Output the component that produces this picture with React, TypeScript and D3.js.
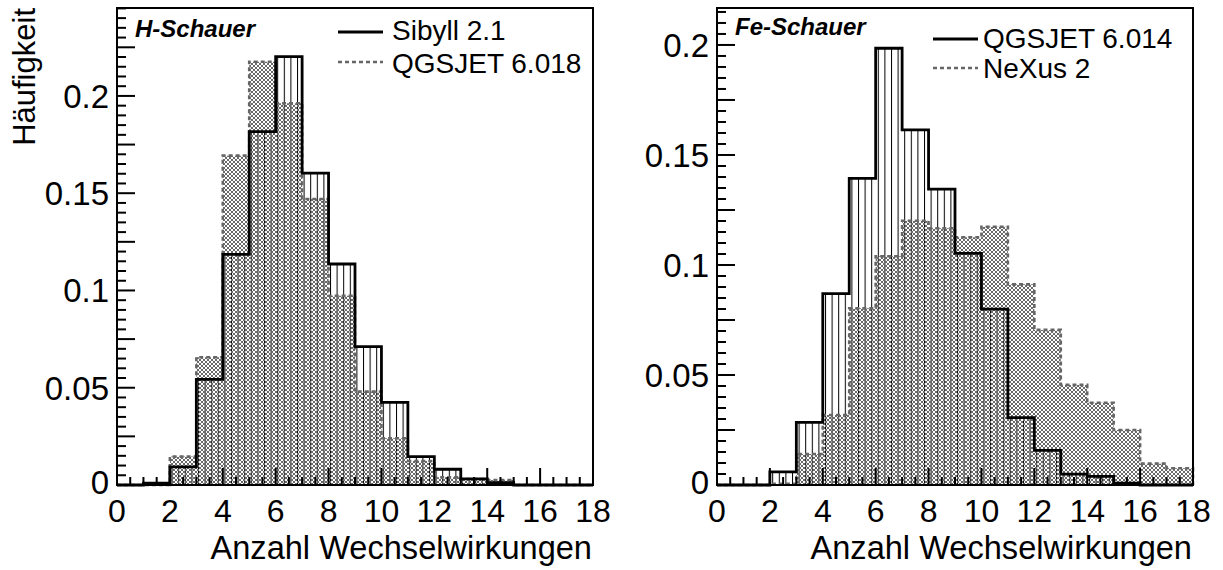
import React from "react";
import * as d3 from "d3";

// ---- data ----
const binEdges = d3.range(0, 19); // 0..18
const xTickLabels = [0, 2, 4, 6, 8, 10, 12, 14, 16, 18];
const yTickLabelsLeft = [0, 0.05, 0.1, 0.15, 0.2];
const yTickLabelsRight = [0, 0.05, 0.1, 0.15, 0.2];

const hSibyll = [0, 0.001, 0.0093, 0.0543, 0.1186, 0.1816, 0.2202, 0.1603, 0.1136, 0.0711, 0.0425, 0.0146, 0.0081, 0.0031, 0.0012, 0, 0, 0];
const hQgsjet018 = [0, 0, 0.0146, 0.0657, 0.1693, 0.2176, 0.1962, 0.147, 0.0973, 0.048, 0.024, 0.0123, 0.004, 0.003, 0.0026, 0, 0, 0];
const feQgsjet014 = [0, 0, 0.006, 0.0285, 0.087, 0.1394, 0.1985, 0.1614, 0.1345, 0.1053, 0.0799, 0.0306, 0.0157, 0.0049, 0.0039, 0.0008, 0, 0];
const feNexus2 = [0, 0, 0.0005, 0.0141, 0.0318, 0.0803, 0.104, 0.1201, 0.1167, 0.1126, 0.1174, 0.0912, 0.0705, 0.0455, 0.0374, 0.025, 0.0097, 0.0076];

const FONT = "'Liberation Sans', Arial, Helvetica, sans-serif";

type PanelProps = {
  x0: number;
  x1: number;
  y0: number;
  yTop: number;
  yMax: number;
  solid: number[];
  dashed: number[];
  title: string;
  titleBaseline: number;
  solidName: string;
  dashedName: string;
  yLabels: number[];
  legLineX: number;
  legTextX: number;
  leg1LineY: number;
  leg1TextY: number;
  leg2LineY: number;
  leg2TextY: number;
  showYTitle: boolean;
};

function stepPath(vals: number[], x: d3.ScaleLinear<number, number>, y: d3.ScaleLinear<number, number>) {
  const pts: [number, number][] = [];
  pts.push([x(binEdges[0]), y(0)]);
  vals.forEach((v, i) => {
    pts.push([x(binEdges[i]), y(v)]);
    pts.push([x(binEdges[i + 1]), y(v)]);
  });
  pts.push([x(binEdges[binEdges.length - 1]), y(0)]);
  return d3.line()(pts) || "";
}

function Panel(p: PanelProps) {
  const x = d3.scaleLinear().domain([0, 18]).range([p.x0, p.x1]);
  const y = d3.scaleLinear().domain([0, p.yMax]).range([p.y0, p.yTop]);
  const minorY = d3.range(0, p.yMax + 1e-9, 0.005).map((v) => +v.toFixed(4));
  const minorX = d3.range(0, 18.0001, 0.5);
  const fmt = (v: number) => (v === 0 ? "0" : String(+v.toFixed(3)));
  return (
    <g>
      {/* histograms */}
      <path d={stepPath(p.solid, x, y)} fill="url(#vhatch)" stroke="none" />
      <path d={stepPath(p.dashed, x, y)} fill="url(#xhatch)" stroke="none" />
      <path d={stepPath(p.dashed, x, y)} fill="none" stroke="#666" strokeWidth={2.6} strokeDasharray="4 3" />
      <path d={stepPath(p.solid, x, y)} fill="none" stroke="#000" strokeWidth={2.8} />
      {/* frame */}
      <rect x={p.x0} y={p.yTop} width={p.x1 - p.x0} height={p.y0 - p.yTop} fill="none" stroke="#000" strokeWidth={2} />
      {/* y ticks */}
      {minorY.map((v, i) => {
        const major = Math.abs(v / 0.025 - Math.round(v / 0.025)) < 1e-6;
        return (
          <line key={"yt" + i} x1={p.x0} x2={p.x0 + (major ? 18 : 9)} y1={y(v)} y2={y(v)} stroke="#000" strokeWidth={2} />
        );
      })}
      {/* x ticks */}
      {minorX.map((v, i) => {
        const major = Math.abs(v / 2 - Math.round(v / 2)) < 1e-6;
        return (
          <line key={"xt" + i} x1={x(v)} x2={x(v)} y1={p.y0} y2={p.y0 - (major ? 17 : 8)} stroke="#000" strokeWidth={2} />
        );
      })}
      {/* y labels */}
      {p.yLabels.map((v) => (
        <text key={"yl" + v} x={p.x0 - 8} y={v === 0 ? y(v) - 3 : y(v)} dy="0.36em" textAnchor="end" fontFamily={FONT} fontSize={33}>
          {fmt(v)}
        </text>
      ))}
      {/* x labels */}
      {xTickLabels.map((v) => (
        <text key={"xl" + v} x={x(v)} y={p.y0 + 37} textAnchor="middle" fontFamily={FONT} fontSize={32}>
          {v}
        </text>
      ))}
      <text x={p.x1 - 1} y={p.y0 + 74} textAnchor="end" fontFamily={FONT} fontSize={32.6}>
        Anzahl Wechselwirkungen
      </text>
      {p.showYTitle && (
        <text transform={`translate(${p.x0 - 82},${p.yTop}) rotate(-90)`} textAnchor="end" fontFamily={FONT} fontSize={31}>
          Häufigkeit
        </text>
      )}
      {/* panel title */}
      <text x={p.x0 + 18} y={p.titleBaseline} fontFamily={FONT} fontSize={24} fontWeight="bold" fontStyle="italic">
        {p.title}
      </text>
      {/* legend */}
      <line x1={p.legLineX} x2={p.legLineX + 45} y1={p.leg1LineY} y2={p.leg1LineY} stroke="#000" strokeWidth={2.8} />
      <text x={p.legTextX} y={p.leg1TextY} fontFamily={FONT} fontSize={28}>
        {p.solidName}
      </text>
      <line x1={p.legLineX} x2={p.legLineX + 45} y1={p.leg2LineY} y2={p.leg2LineY} stroke="#666" strokeWidth={2.6} strokeDasharray="4 3" />
      <text x={p.legTextX} y={p.leg2TextY} fontFamily={FONT} fontSize={28}>
        {p.dashedName}
      </text>
    </g>
  );
}

export default function App() {
  return (
    <svg
      width={1223}
      height={570}
      style={{ position: "absolute", left: 0, top: 0, background: "#fff" }}
    >
      <defs>
        <pattern id="vhatch" patternUnits="userSpaceOnUse" width={6.6} height={10}>
          <line x1={0.5} x2={0.5} y1={0} y2={10} stroke="#000" strokeWidth={1} />
        </pattern>
        <pattern id="xhatch" patternUnits="userSpaceOnUse" width={4} height={4}>
          <line x1={0} y1={0} x2={4} y2={4} stroke="#6a6a6a" strokeWidth={1} />
          <line x1={0} y1={4} x2={4} y2={0} stroke="#6a6a6a" strokeWidth={1} />
        </pattern>
      </defs>
      <rect x={0} y={0} width={1223} height={570} fill="#fff" />
      <Panel
        x0={117}
        x1={593}
        y0={485}
        yTop={8}
        yMax={0.2452}
        solid={hSibyll}
        dashed={hQgsjet018}
        title="H-Schauer"
        titleBaseline={37}
        solidName="Sibyll 2.1"
        dashedName="QGSJET 6.018"
        yLabels={yTickLabelsLeft}
        legLineX={338}
        legTextX={392}
        leg1LineY={32}
        leg1TextY={40}
        leg2LineY={62}
        leg2TextY={73}
        showYTitle={true}
      />
      <Panel
        x0={717}
        x1={1193}
        y0={485}
        yTop={8}
        yMax={0.2168}
        solid={feQgsjet014}
        dashed={feNexus2}
        title="Fe-Schauer"
        titleBaseline={35}
        solidName="QGSJET 6.014"
        dashedName="NeXus 2"
        yLabels={yTickLabelsRight}
        legLineX={933}
        legTextX={983}
        leg1LineY={39}
        leg1TextY={48}
        leg2LineY={68}
        leg2TextY={78}
        showYTitle={false}
      />
    </svg>
  );
}
